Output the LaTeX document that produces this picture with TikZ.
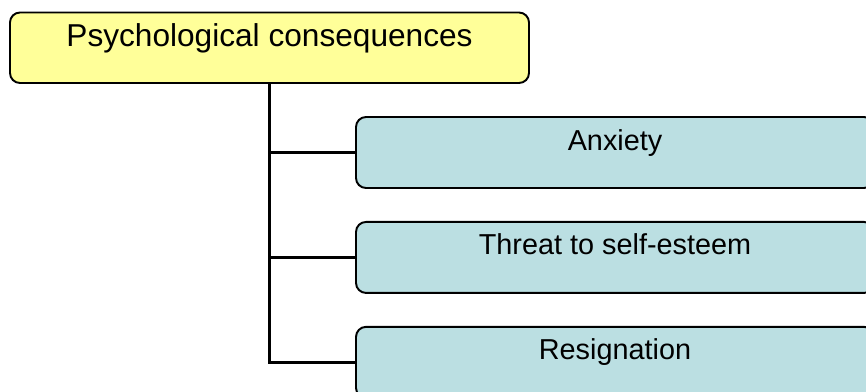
\documentclass[tikz,border=0pt]{standalone}
\usepackage{fontspec}
\setmainfont{Liberation Sans}
\usepackage{tikz}
\usetikzlibrary{positioning}
\definecolor{headyellow}{HTML}{FFFF99}
\definecolor{itemteal}{HTML}{BBDFE2}
\tikzstyle{headbox} = [rectangle, rounded corners=0.2cm, draw=black, line width=1.1pt, fill=headyellow, minimum width=10.38cm, minimum height=1.41cm, inner sep=0pt, text height=0.67cm, text depth=0.74cm, font=\fontsize{18}{22}\selectfont]
\tikzstyle{itembox} = [rectangle, rounded corners=0.2cm, draw=black, line width=1.1pt, fill=itemteal, minimum width=10.36cm, minimum height=1.42cm, inner sep=0pt, text height=0.66cm, text depth=0.76cm, font=\fontsize{16.4}{20}\selectfont]
\tikzstyle{branchline} = [draw=black, line width=1.5pt]

\begin{document}
\begin{tikzpicture}[node distance=0.64cm]
\clip (0,0) rectangle (17.32,-7.82);

% Heading
\node (psych) [headbox] at (5.39,-0.955) {Psychological consequences};

% Consequences
\node (anxiety) [itembox] at (12.3,-3.05) {Anxiety};
\node (threat) [itembox, below=of anxiety] {Threat to self-esteem};
\node (resign) [itembox, below=of threat] {Resignation};

% Links
\draw [branchline] (psych.south) |- (anxiety.west);
\draw [branchline] (psych.south) |- (threat.west);
\draw [branchline] (psych.south) |- (resign.west);

\end{tikzpicture}
\end{document}
